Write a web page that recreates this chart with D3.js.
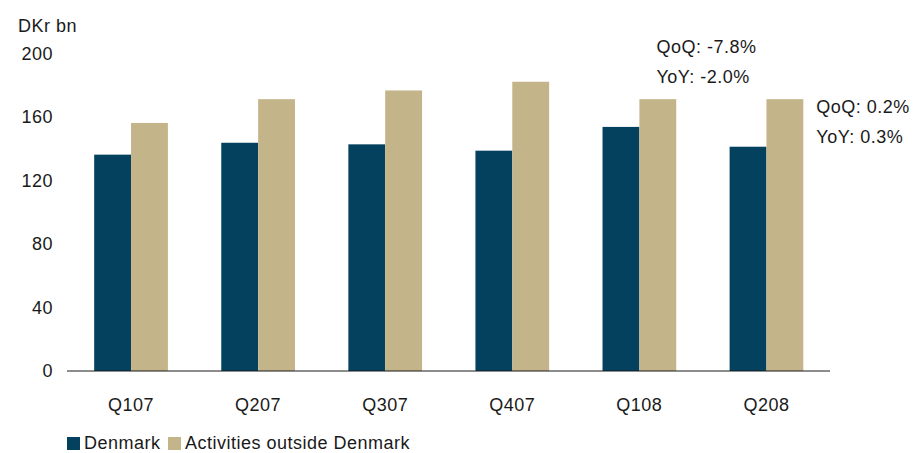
<!DOCTYPE html>
<html>
<head>
<meta charset="utf-8">
<script src="https://cdn.jsdelivr.net/npm/d3@7"></script>
<style>
  body { margin: 0; background: #fff; }
  text { font-family: "Liberation Sans", Arial, sans-serif; fill: #1a1a1a; letter-spacing: 0.5px; }
</style>
</head>
<body>
<script>
var quarters = ["Q107", "Q207", "Q307", "Q407", "Q108", "Q208"];
var denmark = [136.5, 144, 143, 139, 154, 141.5];
var outside = [156.5, 171.5, 177, 182.5, 171.5, 171.5];
var seriesNames = ["Denmark", "Activities outside Denmark"];
var yTicks = [0, 40, 80, 120, 160, 200];
var notes = [
    {q: "Q108", lines: ["QoQ: -7.8%", "YoY: -2.0%"]},
    {q: "Q208", lines: ["QoQ: 0.2%", "YoY: 0.3%"]}
];

var w = 917, h = 453;
var colors = ["#03415e", "#c4b48a"];

var svg = d3.select("body").append("svg")
    .attr("width", w)
    .attr("height", h);

var x = d3.scaleBand()
    .domain(quarters)
    .range([67.5, 830])
    .paddingInner(0.42)
    .paddingOuter(0.21);

var xs = d3.scaleBand()
    .domain(seriesNames)
    .range([0, x.bandwidth()]);

var y = d3.scaleLinear()
    .domain([0, 200])
    .range([371, 54]);

//y tick labels
svg.selectAll(".ytick")
    .data(yTicks)
    .enter()
    .append("text")
    .attr("x", 53)
    .attr("y", function(d){ return y(d) + 6; })
    .attr("text-anchor", "end")
    .style("font-size", "18px")
    .text(function(d){ return d; });

svg.append("text")
    .attr("x", 18)
    .attr("y", 32)
    .style("font-size", "18px")
    .text("DKr bn");

var rows = quarters.map(function(q, i){
    return {q: q, vals: [denmark[i], outside[i]]};
});

var groups = svg.selectAll(".grp")
    .data(rows)
    .enter()
    .append("g")
    .attr("transform", function(d){ return "translate(" + x(d.q) + ",0)"; });

groups.selectAll("rect")
    .data(function(d){ return d.vals.map(function(v, j){ return {v: v, s: seriesNames[j], j: j}; }); })
    .enter()
    .append("rect")
    .attr("x", function(d){ return xs(d.s); })
    .attr("width", xs.bandwidth())
    .attr("y", function(d){ return y(d.v); })
    .attr("height", function(d){ return y(0) - y(d.v); })
    .attr("fill", function(d){ return colors[d.j]; });

//baseline
svg.append("line")
    .attr("x1", 67).attr("x2", 830)
    .attr("y1", y(0)).attr("y2", y(0))
    .attr("stroke", "#1a1a1a")
    .attr("stroke-width", 1);

svg.selectAll(".xlab")
    .data(quarters)
    .enter()
    .append("text")
    .attr("x", function(d){ return x(d) + x.bandwidth() / 2; })
    .attr("y", 411)
    .attr("text-anchor", "middle")
    .style("font-size", "18px")
    .text(function(d){ return d; });

//annotations
notes.forEach(function(n, i){
    var xpos = i == 0 ? x(n.q) + x.bandwidth() / 2 + 17 : x(n.q) + x.bandwidth() + 13;
    var ypos = i == 0 ? 53 : 113;
    n.lines.forEach(function(t, k){
        svg.append("text")
            .attr("x", xpos)
            .attr("y", ypos + k * 30)
            .style("font-size", "18px")
            .text(t);
    });
});

//legend
var lx = [67, 168];
seriesNames.forEach(function(s, i){
    svg.append("rect")
        .attr("x", lx[i]).attr("y", 437)
        .attr("width", 13).attr("height", 13)
        .attr("fill", colors[i]);
    svg.append("text")
        .attr("x", lx[i] + 17)
        .attr("y", 449)
        .style("font-size", "18px")
        .text(s);
});
</script>
</body>
</html>
